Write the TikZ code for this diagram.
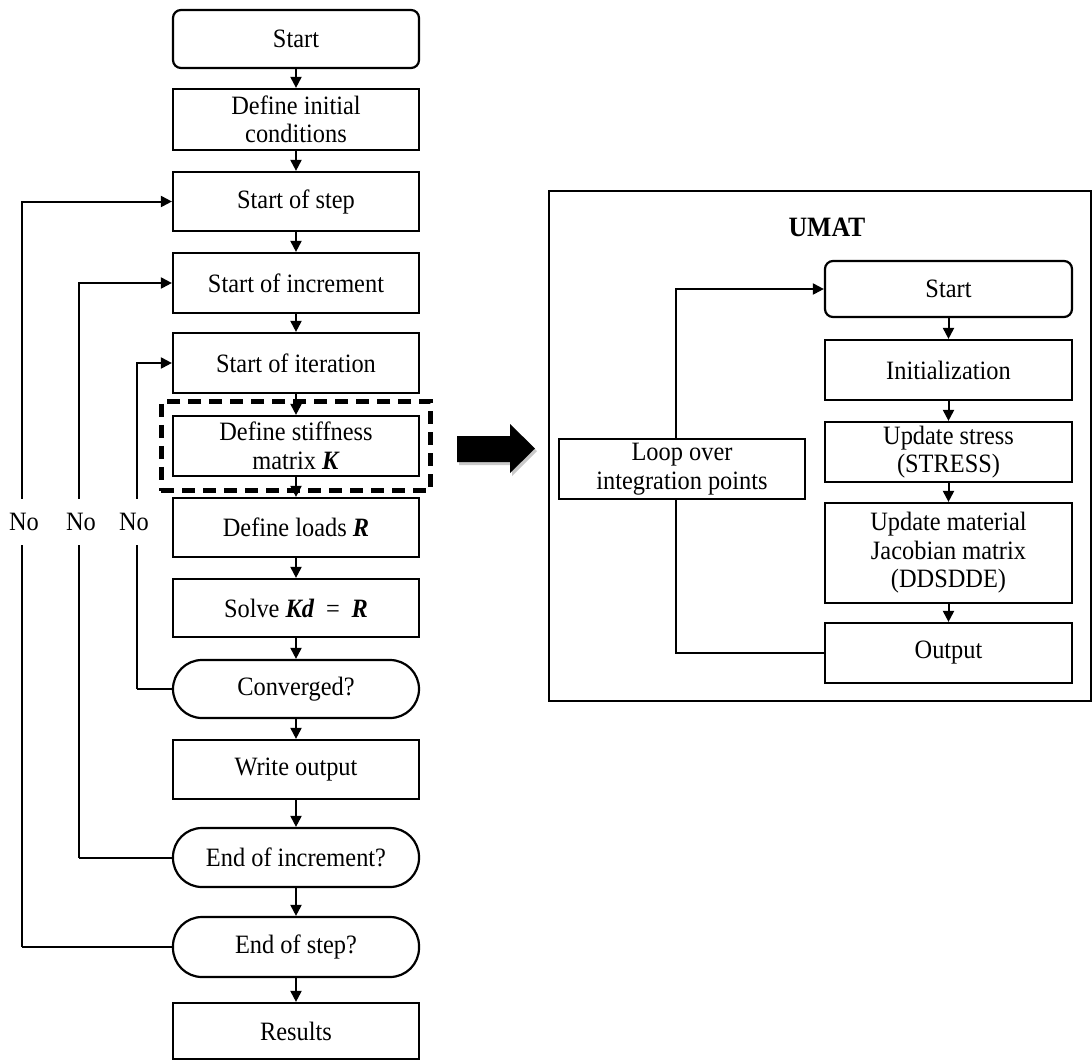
\documentclass[tikz,border=0pt]{standalone}
\usepackage{fontspec}
\setmainfont{Liberation Serif}[FakeStretch=0.92]
\usetikzlibrary{arrows.meta,fit}
\newcommand{\mfs}{\fontsize{26.5}{28.5}\selectfont}
\newcommand{\bik}[1]{\textbf{\textit{#1}}}
\begin{document}
\begin{tikzpicture}[x=1pt,y=-1pt,
  fbox/.style={draw, line width=2.2pt, minimum width=246pt, inner sep=0pt, align=center, font=\mfs, fill=white},
  rbox/.style={fbox, rounded corners=8pt},
  sbox/.style={fbox, rounded corners=29pt},
  arr/.style={line width=2pt, -{Triangle[length=11pt,width=11pt]}},
  ln/.style={line width=2pt},
  nolab/.style={fill=white, inner xsep=1pt, minimum height=46pt, font=\mfs},
  dashbox/.style={draw, line width=4.5pt, dash pattern=on 13pt off 8pt, inner xsep=10.5pt, inner ysep=13.5pt}
]
\useasboundingbox (0,0) rectangle (1092,1061);
\fill[white] (0,0) rectangle (1092,1061);

% left column
\node[rbox, minimum height=58pt] (start) at (296,39) {Start};
\node[fbox, minimum height=61pt] (dic) at (296,119.5) {Define initial\\conditions};
\node[fbox, minimum height=59pt] (sos) at (296,201.5) {Start of step};
\node[fbox, minimum height=60pt] (soi) at (296,283) {Start of increment};
\node[fbox, minimum height=60pt] (soit) at (296,363) {Start of iteration};
\node[fbox, minimum height=60pt] (dsm) at (296,446) {Define stiffness\\matrix \bik{K}};
\node[fbox, minimum height=59pt] (dl) at (296,527.5) {Define loads \bik{R}};
\node[fbox, minimum height=58pt] (solve) at (296,608) {Solve \bik{Kd}\;\,=\;\,\bik{R}};
\node[sbox, minimum height=58pt] (conv) at (296,689) {Converged?};
\node[fbox, minimum height=59pt] (wo) at (296,769.5) {Write output};
\node[sbox, minimum height=59pt] (eoi) at (296,857.5) {End of increment?};
\node[sbox, minimum height=60pt] (eos) at (296,947) {End of step?};
\node[fbox, minimum height=56pt] (res) at (296,1031) {Results};

\draw[arr] (start) -- (dic);
\draw[arr] (dic) -- (sos);
\draw[arr] (sos) -- (soi);
\draw[arr] (soi) -- (soit);
\draw[arr] (soit) -- (dsm);
\draw[arr] (dsm) -- (dl);
\draw[arr] (dl) -- (solve);
\draw[arr] (solve) -- (conv);
\draw[arr] (conv) -- (wo);
\draw[arr] (wo) -- (eoi);
\draw[arr] (eoi) -- (eos);
\draw[arr] (eos) -- (res);

\node[dashbox, fit=(dsm)] (dash) {};

% loops
\coordinate (c1) at (22,947);
\coordinate (c2) at (79,857.5);
\coordinate (c3) at (137,689);
\draw[ln] (eos.west) -- (c1);
\draw[arr] (c1) |- (sos.west);
\draw[ln] (eoi.west) -- (c2);
\draw[arr] (c2) |- (soi.west);
\draw[ln] (conv.west) -- (c3);
\draw[arr] (c3) |- (soit.west);
\node[nolab] (no1) at (24,522) {No};
\node[nolab] (no2) at (81,522) {No};
\node[nolab] (no3) at (134,522) {No};

% block arrow
\fill[black!35, opacity=0.6] (459,439) -- (512,439) -- (512,427) -- (537,451) -- (512,476) -- (512,465) -- (459,465) -- cycle;
\fill[black] (457,436) -- (510,436) -- (510,424) -- (535,448.5) -- (510,473) -- (510,462) -- (457,462) -- cycle;

% UMAT
\node[draw, line width=2pt, minimum width=542pt, minimum height=510pt, inner sep=0pt] (umat) at (820,446) {};
\node[font=\fontsize{28}{30}\selectfont\bfseries] (umatt) at (827,227) {UMAT};
\node[rbox, minimum width=247pt, minimum height=56pt] (us) at (948.5,289) {Start};
\node[fbox, minimum width=247pt, minimum height=60pt] (ui) at (948.5,370) {Initialization};
\node[fbox, minimum width=247pt, minimum height=60pt] (uu) at (948.5,452) {Update stress\\(STRESS)};
\node[fbox, minimum width=247pt, minimum height=100pt] (um) at (948.5,553) {Update material\\Jacobian matrix\\(DDSDDE)};
\node[fbox, minimum width=247pt, minimum height=60pt] (uo) at (948.5,653) {Output};
\node[fbox, minimum width=246pt, minimum height=60pt] (loop) at (682,469) {Loop over\\integration points};

\draw[arr] (us) -- (ui);
\draw[arr] (ui) -- (uu);
\draw[arr] (uu) -- (um);
\draw[arr] (um) -- (uo);
\draw[arr] ([xshift=-6pt]loop.north) |- (us.west);
\draw[ln] ([xshift=-6pt]loop.south) |- (uo.west);
\end{tikzpicture}
\end{document}
